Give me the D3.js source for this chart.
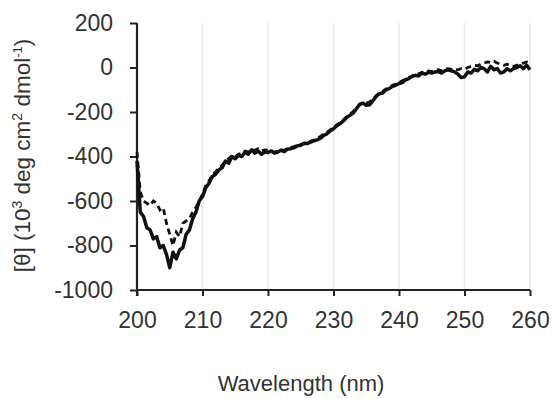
<!DOCTYPE html>
<html>
<head>
<meta charset="utf-8">
<script src="https://cdn.jsdelivr.net/npm/d3@7"></script>
<style>
  body { margin: 0; background: #fff; }
  text { font-family: "Liberation Sans", Arial, sans-serif; fill: #333; }
</style>
</head>
<body>
<div id="chart"></div>
<script>

// wavelength grid, nm (0.5 nm step)
var wavelengths = d3.range(200, 260.001, 0.5);

// solid trace
var solidVals = [
  -420, -650, -670, -720, -730, -770, -760, -810, -800, -840,
  -900, -830, -860, -820, -810, -750, -730, -680, -650, -600,
  -580, -540, -520, -490, -480, -460, -450, -420, -430, -400,
  -410, -395, -400, -380, -390, -370, -385, -375, -390, -380,
  -382, -375, -385, -380, -372, -378, -366, -365, -360, -352,
  -350, -340, -342, -335, -330, -325, -318, -305, -298, -285,
  -275, -262, -252, -240, -225, -215, -205, -185, -165, -160,
  -170, -168, -150, -130, -118, -115, -100, -95, -85, -80,
  -72, -68, -55, -50, -40, -35, -38, -25, -30, -22,
  -25, -20, -18, -25, -15, -10, -15, -20, -30, -45,
  -42, -20, -25, -8, -15, 0, -5, -20, 5, -10,
  -5, -25, -20, -5, -15, -5, 0, 8, -5, 10,
  -10
];

// dashed trace
var dashedVals = [
  -380, -560, -600, -610, -620, -600, -610, -640, -630, -700,
  -750, -800, -740, -760, -700, -690, -680, -650, -630, -600,
  -570, -530, -510, -480, -470, -450, -440, -420, -410, -395,
  -400, -390, -385, -375, -380, -370, -372, -365, -375, -370,
  -372, -378, -380, -375, -370, -372, -362, -360, -355, -350,
  -345, -342, -338, -332, -326, -318, -310, -300, -292, -280,
  -270, -258, -248, -235, -222, -210, -198, -182, -168, -158,
  -160, -155, -142, -128, -115, -108, -98, -90, -80, -75,
  -68, -60, -52, -45, -38, -30, -28, -22, -20, -15,
  -18, -12, -10, -15, -8, -5, -8, -12, -10, -5,
  -8, 0, 5, 10, 8, 15, 20, 25, 22, 28,
  20, 15, 10, 15, 8, 5, 10, 15, 20, 25,
  18
];

var xTicks = [200, 210, 220, 230, 240, 250, 260];
var yTicks = [200, 0, -200, -400, -600, -800, -1000];

var margin = {top: 23, right: 22, bottom: 109, left: 137},
    width = 552 - margin.left - margin.right,
    height = 399 - margin.top - margin.bottom;

var svg = d3.select("#chart").append("svg")
    .attr("width", 552)
    .attr("height", 399)
  .append("g")
    .attr("transform", "translate(" + margin.left + "," + margin.top + ")");

var x = d3.scaleLinear().domain([200, 260]).range([0, width]);
var y = d3.scaleLinear().domain([-1000, 200]).range([height, 0]);

// vertical grid
svg.selectAll(".grid")
    .data(xTicks.slice(1))
  .enter().append("line")
    .attr("x1", function(d) { return x(d); })
    .attr("x2", function(d) { return x(d); })
    .attr("y1", 0)
    .attr("y2", height)
    .attr("stroke", "#e8e8e8")
    .attr("stroke-width", 1.5);

var fmt = function(d) { return String(d); };

// axes
var xAxis = svg.append("g")
    .attr("transform", "translate(0," + height + ")")
    .call(d3.axisBottom(x).tickValues(xTicks).tickFormat(fmt).tickSize(6).tickPadding(16));

var yAxis = svg.append("g")
    .call(d3.axisLeft(y).tickValues(yTicks).tickFormat(fmt).tickSize(7).tickPadding(17));

[xAxis, yAxis].forEach(function(a) {
  a.select(".domain").attr("stroke", "#222").attr("stroke-width", 2.2);
  a.selectAll(".tick line").attr("stroke", "#222").attr("stroke-width", 2);
  a.selectAll(".tick text")
      .attr("font-size", "23px")
      .style("font-family", "'Liberation Sans', Arial, sans-serif")
      .attr("fill", "#333");
});
xAxis.select(".domain").attr("d", "M0,0H" + width);
yAxis.select(".domain").attr("d", "M0,0V" + (height + 6));

// traces
var line = d3.line()
    .x(function(d) { return x(d[0]); })
    .y(function(d) { return y(d[1]); });

svg.append("path")
    .datum(wavelengths.map(function(w, i) { return [w, dashedVals[i]]; }))
    .attr("fill", "none")
    .attr("stroke", "#111")
    .attr("stroke-width", 2.8)
    .attr("stroke-dasharray", "6,4")
    .attr("d", line);

svg.append("path")
    .datum(wavelengths.map(function(w, i) { return [w, solidVals[i]]; }))
    .attr("fill", "none")
    .attr("stroke", "#111")
    .attr("stroke-width", 3.5)
    .attr("stroke-linejoin", "round")
    .attr("d", line);

// labels
svg.append("text")
    .attr("x", 164)
    .attr("y", height + 101)
    .attr("text-anchor", "middle")
    .attr("font-size", "22px")
    .text("Wavelength (nm)");

var yl = svg.append("text")
    .attr("transform", "translate(-107," + (height / 2 - 1) + ") rotate(-90)")
    .attr("text-anchor", "middle")
    .attr("font-size", "22.5px");
yl.append("tspan").text("[θ] (10");
yl.append("tspan").attr("font-size", "14px").attr("dy", -8).text("3");
yl.append("tspan").attr("dy", 8).text(" deg cm");
yl.append("tspan").attr("font-size", "14px").attr("dy", -8).text("2");
yl.append("tspan").attr("dy", 8).text(" dmol");
yl.append("tspan").attr("font-size", "13px").attr("dy", -8).text("-1");
yl.append("tspan").attr("dy", 8).text(")");

</script>
</body>
</html>
